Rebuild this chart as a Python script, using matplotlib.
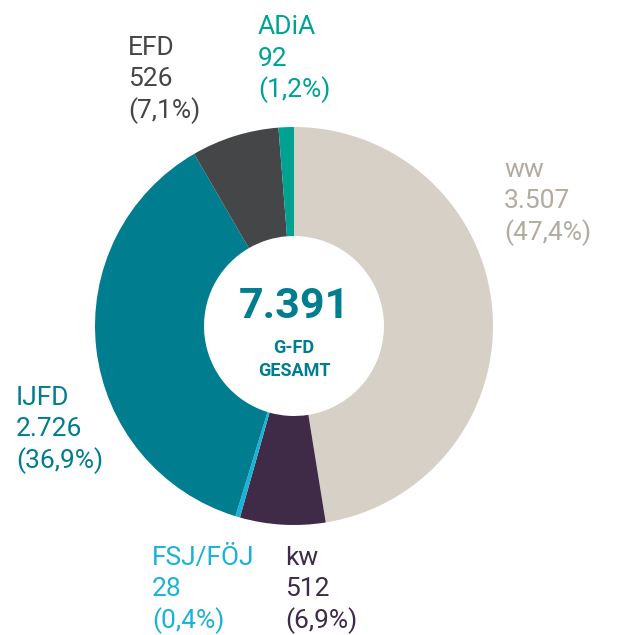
import matplotlib.pyplot as plt

# ---------- Data ----------
names = ['ww', 'kw', 'FSJ/FÖJ', 'IJFD', 'EFD', 'ADiA']
counts = [3507, 512, 28, 2726, 526, 92]
count_labels = ['3.507', '512', '28', '2.726', '526', '92']
pct_labels = ['(47,4%)', '(6,9%)', '(0,4%)', '(36,9%)', '(7,1%)', '(1,2%)']
total_label = '7.391'

colors = ['#d6d0c6', '#3f2a47', '#19b3d8', '#007d8f', '#444648', '#00a294']
text_colors = ['#b3ab9f', '#3f2a47', '#19b3d8', '#007d8f', '#444648', '#00a294']

# label anchor (x, baseline of first line) in pixel coords, top-left origin
label_pos = [(504, 177), (285, 565), (152, 565), (16, 405), (128, 55), (258, 34)]

W, H = 617, 635
fig = plt.figure(figsize=(W / 100, H / 100), dpi=100)
ax = fig.add_axes([0, 0, 1, 1])
ax.set_xlim(0, W)
ax.set_ylim(0, H)
ax.set_aspect('equal')
ax.axis('off')

cx, cy, r = 294, H - 326, 199
ax.pie(counts, colors=colors, startangle=90, counterclock=False,
       center=(cx, cy), radius=r, frame=True,
       wedgeprops=dict(width=109, edgecolor='none'))
ax.set_xlim(0, W)
ax.set_ylim(0, H)
ax.axis('off')

font = 'Roboto'
for name, cl, pl, col, (x, y) in zip(names, count_labels, pct_labels, text_colors, label_pos):
    for i, t in enumerate([name, cl, pl]):
        ax.text(x, H - (y + i * 31.5), t, color=col, fontsize=19,
                family=font, ha='left', va='baseline')

# center text
ax.text(cx, H - 318, total_label, color='#007d8f', fontsize=31, fontweight='bold',
        family=font, ha='center', va='baseline')
ax.text(cx, H - 353, 'G-FD', color='#007d8f', fontsize=13, fontweight='bold',
        family=font, ha='center', va='baseline')
ax.text(cx, H - 376, 'GESAMT', color='#007d8f', fontsize=13, fontweight='bold',
        family=font, ha='center', va='baseline')

fig.savefig('out.png', dpi=100)
